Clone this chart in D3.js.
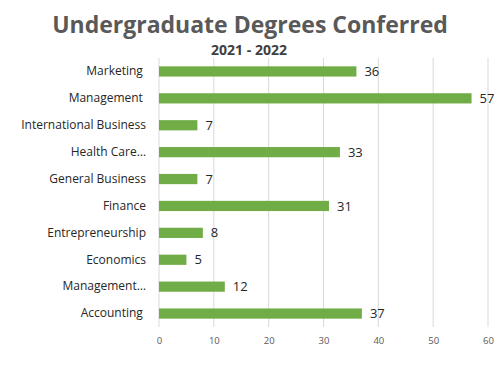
<!DOCTYPE html>
<html>
<head>
<meta charset="utf-8">
<script src="https://cdn.jsdelivr.net/npm/d3@7"></script>
<style>
  body { margin: 0; background: #fff; }
  text { font-family: "Open Sans", "Noto Sans", sans-serif; }
</style>
</head>
<body>
<div id="chart"></div>
<script>
const categories = ["Marketing ", "Management ", "International Business", "Health Care\u2026", "General Business",
    "Finance", "Entrepreneurship", "Economics", "Management\u2026", "Accounting "];
const values = [36, 57, 7, 33, 7, 31, 8, 5, 12, 37];
const ticks = [0, 10, 20, 30, 40, 50, 60];

const W = 500, H = 366;
const margin = {top: 58, right: 12, bottom: 39, left: 159};

const svg = d3.select("#chart")
    .append("svg")
    .attr("width", W)
    .attr("height", H);

const x = d3.scaleLinear()
    .domain([0, 60])
    .range([margin.left, 488]);

const y = d3.scaleBand()
    .domain(categories)
    .range([margin.top, H - margin.bottom])
    .paddingInner(0.62)
    .paddingOuter(0.31);

// title
svg.append("text")
    .attr("x", 250).attr("y", 33)
    .attr("text-anchor", "middle")
    .style("font-size", "23px").style("font-weight", "bold")
    .style("fill", "#595959")
    .text("Undergraduate Degrees Conferred");

svg.append("text")
    .attr("x", 249).attr("y", 55)
    .attr("text-anchor", "middle")
    .style("font-size", "14px").style("font-weight", "bold")
    .style("fill", "#404040")
    .text("2021 - 2022");

// gridlines
svg.append("g")
    .selectAll("line")
    .data(ticks)
    .join("line")
    .attr("x1", d => x(d)).attr("x2", d => x(d))
    .attr("y1", margin.top).attr("y2", H - margin.bottom)
    .style("stroke", "#d9d9d9")
    .style("stroke-width", 1);

// x axis labels
const xAxis = svg.append("g")
    .attr("transform", `translate(0,${H - margin.bottom})`)
    .call(d3.axisBottom(x).tickValues(ticks).tickSize(0).tickPadding(10));
xAxis.select(".domain").remove();
xAxis.selectAll("text")
    .style("font-size", "9.5px")
    .style("fill", "#595959")
    .style("font-family", "'Open Sans', sans-serif");

// category labels
const yAxis = svg.append("g")
    .attr("transform", `translate(146,0)`)
    .call(d3.axisLeft(y).tickSize(0).tickPadding(0));
yAxis.select(".domain").remove();
yAxis.selectAll("text")
    .style("font-size", "12px")
    .style("fill", "#262626")
    .style("white-space", "pre")
    .style("font-family", "'Open Sans', sans-serif");

// bars
svg.append("g")
    .selectAll("rect")
    .data(values)
    .join("rect")
    .attr("x", x(0))
    .attr("y", (d, i) => y(categories[i]))
    .attr("width", d => x(d) - x(0))
    .attr("height", y.bandwidth())
    .style("fill", "#70ad47");

// value labels
svg.append("g")
    .selectAll("text")
    .data(values)
    .join("text")
    .attr("x", d => x(d) + 8)
    .attr("y", (d, i) => y(categories[i]) + y.bandwidth() / 2)
    .attr("dy", "0.35em")
    .style("font-size", "13px")
    .style("fill", "#262626")
    .text(d => d);
</script>
</body>
</html>
